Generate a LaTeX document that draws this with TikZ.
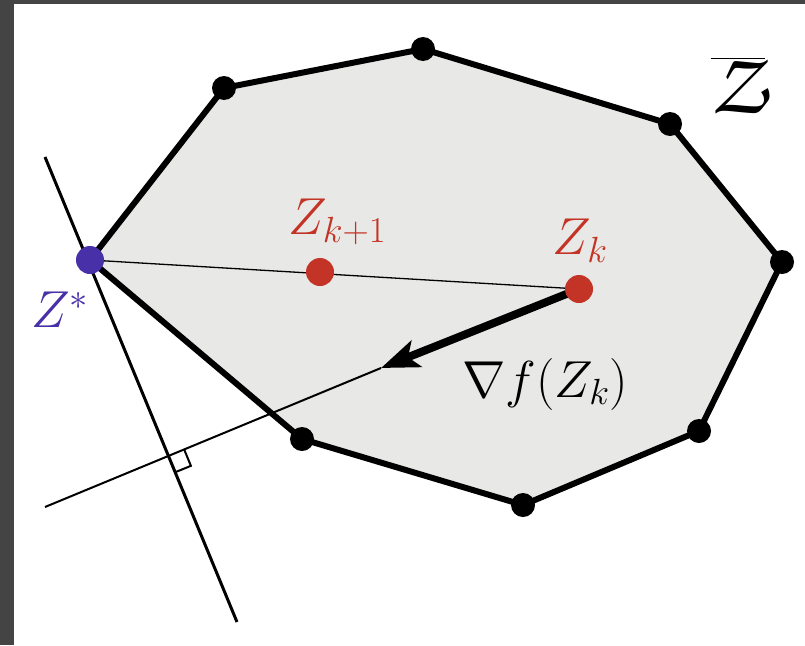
\documentclass[tikz,border=0pt]{standalone}
\usepackage{fix-cm}
\usepackage{fontspec}
\newfontfamily\chorus{TeX Gyre Chorus}
\usetikzlibrary{arrows.meta,calc}
\definecolor{fillgray}{RGB}{232,232,230}
\definecolor{zred}{RGB}{196,52,38}
\definecolor{zblue}{RGB}{72,48,168}
\definecolor{framegray}{RGB}{68,68,68}
\begin{document}
\begin{tikzpicture}[x=1pt,y=-1pt,
  vtx/.style={circle,fill=black,inner sep=0pt,minimum size=24pt},
  rdot/.style={circle,fill=zred,inner sep=0pt,minimum size=28pt},
  bdot/.style={circle,fill=zblue,inner sep=0pt,minimum size=28pt},
  lbl/.style={inner sep=0pt,font=\fontsize{52}{60}\selectfont},
  edge/.style={line width=6pt,line join=round}]
\useasboundingbox (0,0) rectangle (805,645);
\fill[white] (0,0) rectangle (805,645);
\fill[framegray] (0,0) rectangle (14,645);
\fill[framegray] (0,0) rectangle (805,4);
% polygon corners
\coordinate (zs) at (90,260);
\coordinate (p1) at (224,88);
\coordinate (p2) at (423,49);
\coordinate (p3) at (670,124);
\coordinate (p4) at (782,262);
\coordinate (p5) at (699,431);
\coordinate (p6) at (523,505);
\coordinate (p7) at (302,439);
\coordinate (zkc) at (579,289);
\coordinate (zk1c) at (320,272);
\coordinate (t1) at (45,157);
\coordinate (t2) at (237,622);
\coordinate (g) at (45,507);
\coordinate (tip) at (381,368);
\filldraw[fill=fillgray,edge] (zs) -- (p1) -- (p2) -- (p3) -- (p4) -- (p5) -- (p6) -- (p7) -- cycle;
% tangent and gradient lines
\draw[line width=3pt] (t1) -- (t2);
\draw[line width=2pt] (g) -- (tip);
\coordinate (I) at (intersection of t1--t2 and g--zkc);
\coordinate (ra) at ($(I)!17pt!(zkc)$);
\coordinate (rb) at ($(I)!17pt!(t2)$);
\draw[line width=2pt] (ra) -- ($(ra)+(rb)-(I)$) -- (rb);
% thin segment Z* -- Z_k
\draw[line width=1.3pt] (zs) -- (zkc);
% dots
\node[vtx] (d1) at (p1) {};
\node[vtx] (d2) at (p2) {};
\node[vtx] (d3) at (p3) {};
\node[vtx] (d4) at (p4) {};
\node[vtx] (d5) at (p5) {};
\node[vtx] (d6) at (p6) {};
\node[vtx] (d7) at (p7) {};
\node[bdot] (zstar) at (zs) {};
\node[rdot] (zk1) at (zk1c) {};
% gradient arrow
\draw[line width=8pt,-{Stealth[length=38pt,width=28pt,inset=9pt]}] (zkc) -- (tip);
\node[rdot] (zk) at (zkc) {};
% labels
\node[lbl,text=zred] (lzk1) at (337,222) {$Z_{k+1}$};
\node[lbl,text=zred] (lzk) at (580,241) {$Z_k$};
\node[lbl,text=zblue] (lzs) at (60,310) {$Z^*$};
\node[lbl] (lgrad) at (545,384) {$\nabla f(Z_k)$};
\node[inner sep=0pt,font=\fontsize{88}{100}\selectfont] (lset) at (738,86) {$\overline{\hbox{\chorus Z}}$};
\end{tikzpicture}
\end{document}
